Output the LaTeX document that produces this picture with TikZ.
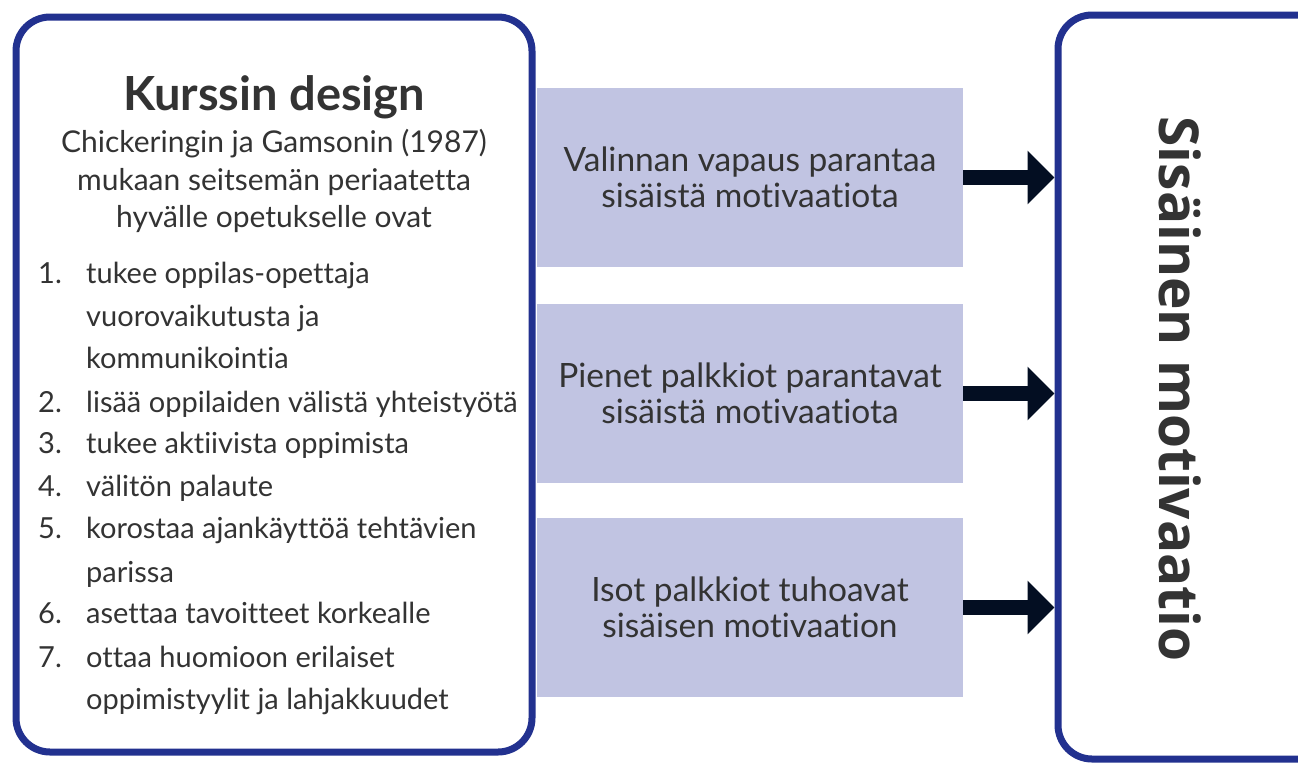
\documentclass[tikz,border=0pt]{standalone}
\usepackage{fontspec}
\setmainfont{Lato}[Ligatures=NoCommon]
\newfontfamily\goalfont{Open Sans}
\usetikzlibrary{arrows.meta,calc}

\definecolor{frameblue}{HTML}{22318F}
\definecolor{lavender}{HTML}{C1C4E2}
\definecolor{ink}{HTML}{333333}
\definecolor{navy}{HTML}{030E22}

\begin{document}
\begin{tikzpicture}[x=1pt,y=-1pt,
  panel/.style={draw=frameblue, line width=7pt, rounded corners=34pt, fill=white},
  cause/.style={fill=lavender, minimum width=426pt, minimum height=179pt,
    align=center, text=ink, inner sep=0pt,
    font=\fontsize{33.5}{36}\selectfont},
  flow/.style={draw=navy, line width=15pt, -{Triangle[length=27pt,width=52pt]}},
  subline/.style={text=ink, inner sep=0pt, anchor=base, font=\fontsize{30}{34}\selectfont},
  itemnum/.style={text=ink, inner sep=0pt, anchor=base west, font=\fontsize{29}{33}\selectfont},
  itemtext/.style={text=ink, inner sep=0pt, anchor=base west, font=\fontsize{29}{33}\selectfont}
]
\useasboundingbox (0,0) rectangle (1298,763);
\clip (0,0) rectangle (1298,763);

% outer panels
\node[panel, minimum width=516pt, minimum height=735pt] (design) at (274,384.5) {};
\node[panel, minimum width=300pt, minimum height=744pt] (goal) at (1208,387) {};

% left panel: heading and introduction
\node[text=ink, inner sep=0pt, anchor=base, font=\fontsize{47}{50}\bfseries] (title) at (274,110) {Kurssin design};
\node[subline] (sub1) at (274,152) {Chickeringin ja Gamsonin (1987)};
\node[subline] (sub2) at (274,190) {mukaan seitsemän periaatetta};
\node[subline] (sub3) at (274,227) {hyvälle opetukselle ovat};

% numbered principles
\foreach \n/\yy in {1/283, 2/412, 3/453, 4/496, 5/538, 6/623, 7/667}
  \node[itemnum] (num\n) at (38,\yy) {\n.};
\foreach \k/\yy/\txt in {
    a/283/{tukee oppilas-opettaja},
    b/326/{vuorovaikutusta ja},
    c/368/{kommunikointia},
    d/412/{lisää oppilaiden välistä yhteistyötä},
    e/453/{tukee aktiivista oppimista},
    f/496/{välitön palaute},
    g/538/{korostaa ajankäyttöä tehtävien},
    h/582/{parissa},
    i/623/{asettaa tavoitteet korkealle},
    j/667/{ottaa huomioon erilaiset},
    k/709/{oppimistyylit ja lahjakkuudet}}
  \node[itemtext] (item\k) at (86,\yy) {\txt};

% middle statements
\node[cause] (c1) at (750,177.5) {Valinnan vapaus parantaa\\sisäistä motivaatiota};
\node[cause] (c2) at (750,393.5) {Pienet palkkiot parantavat\\sisäistä motivaatiota};
\node[cause] (c3) at (750,607.5) {Isot palkkiot tuhoavat\\sisäisen motivaation};

% right panel label
\node[rotate=-90, text=ink, inner sep=0pt, font=\goalfont\fontsize{55}{60}\bfseries] (goaltext) at (1180,389) {Sisäinen motivaatio};

% arrows into the right panel
\draw[flow] (c1.east) -- (c1.east -| goal.west);
\draw[flow] (c2.east) -- (c2.east -| goal.west);
\draw[flow] (c3.east) -- (c3.east -| goal.west);
\end{tikzpicture}
\end{document}
